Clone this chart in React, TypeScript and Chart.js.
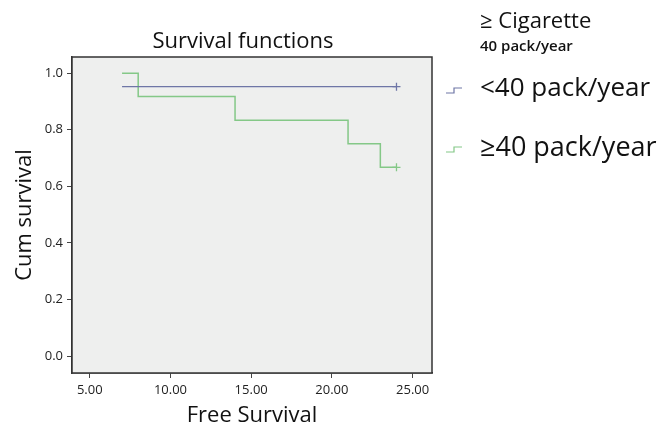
import React, { useEffect, useRef } from "react";
import { Chart, registerables } from "chart.js";

Chart.register(...registerables);

const chartTitle = "Survival functions";
const legendTitle = "≥ Cigarette";
const legendSubtitle = "40 pack/year";
const seriesLabels = ["<40 pack/year", "≥40 pack/year"];
const seriesColors = ["#6e76a6", "#84c887"];

const lowTimes = [7, 24];
const lowSurvival = [0.952, 0.952];
const highTimes = [7, 8, 14, 21, 23, 24];
const highSurvival = [1.0, 0.917, 0.833, 0.75, 0.667, 0.667];

const xTicks = [5, 10, 15, 20, 25];
const yTicks = [0, 0.2, 0.4, 0.6, 0.8, 1.0];
const xTitle = "Free Survival";
const yTitle = "Cum survival";

const FONT = "'Open Sans', 'Noto Sans', sans-serif";

const toPoints = (xs: number[], ys: number[]) => xs.map((x, i) => ({ x, y: ys[i] }));
const censorRadius = (n: number) => Array.from({ length: n }, (_, i) => (i === n - 1 ? 4 : 0));

const framePlugin = {
  id: "frame",
  beforeDatasetsDraw(chart: any) {
    const { ctx, chartArea: a } = chart;
    ctx.save();
    ctx.fillStyle = "#eeefee";
    ctx.fillRect(a.left, a.top, a.right - a.left, a.bottom - a.top);
    ctx.restore();
  },
  afterDraw(chart: any) {
    const { ctx, chartArea: a } = chart;
    ctx.save();
    ctx.strokeStyle = "#333";
    ctx.lineWidth = 1.5;
    ctx.strokeRect(a.left, a.top, a.right - a.left, a.bottom - a.top);

    // title
    ctx.fillStyle = "#111";
    ctx.font = `22px ${FONT}`;
    ctx.textAlign = "center";
    ctx.textBaseline = "middle";
    ctx.fillText(chartTitle, (a.left + a.right) / 2 - 9, 42);

    // legend
    const lx = a.right + 48;
    ctx.textAlign = "left";
    ctx.font = `22px ${FONT}`;
    ctx.fillText(legendTitle, lx, 22);
    ctx.font = `600 15px ${FONT}`;
    ctx.fillText(legendSubtitle, lx, 47);
    const ys = [89, 148];
    chart.data.datasets.forEach((ds: any, i: number) => {
      const y = ys[i];
      ctx.strokeStyle = ds.borderColor;
      ctx.lineWidth = 1.2;
      ctx.beginPath();
      ctx.moveTo(a.right + 14, y + 4);
      ctx.lineTo(a.right + 22, y + 4);
      ctx.lineTo(a.right + 22, y - 1);
      ctx.lineTo(a.right + 30, y - 1);
      ctx.stroke();
      ctx.fillStyle = "#111";
      ctx.font = `${i === 0 ? 26 : 27}px ${FONT}`;
      ctx.fillText(ds.label, lx, y);
    });
    ctx.restore();
  },
};

export default function App() {
  const ref = useRef<HTMLCanvasElement>(null);
  useEffect(() => {
    if (!ref.current) return;
    const chart = new Chart(ref.current, {
      type: "line",
      data: {
        datasets: [
          {
            label: seriesLabels[0],
            data: toPoints(lowTimes, lowSurvival),
            borderColor: seriesColors[0],
            backgroundColor: seriesColors[0],
            borderWidth: 1.3,
            stepped: true,
            pointStyle: "cross",
            pointRadius: censorRadius(lowTimes.length),
            pointBorderWidth: 1.3,
          },
          {
            label: seriesLabels[1],
            data: toPoints(highTimes, highSurvival),
            borderColor: seriesColors[1],
            backgroundColor: seriesColors[1],
            borderWidth: 1.5,
            stepped: true,
            pointStyle: "cross",
            pointRadius: censorRadius(highTimes.length),
            pointBorderWidth: 1.3,
          },
        ],
      },
      options: {
        responsive: false,
        animation: false,
        layout: { padding: { top: 57, right: 233, left: 0, bottom: 0 } },
        plugins: { legend: { display: false }, title: { display: false }, tooltip: { enabled: false } },
        scales: {
          x: {
            type: "linear",
            min: 3.9,
            max: 26.2,
            afterFit: (s: any) => { s.height = 56; },
            afterBuildTicks: (s: any) => { s.ticks = xTicks.map((v) => ({ value: v })); },
            ticks: {
              callback: (v: any) => Number(v).toFixed(2),
              color: "#222",
              font: { family: FONT, size: 13 },
              padding: 4,
              maxRotation: 0,
            },
            grid: { drawOnChartArea: false, drawTicks: true, tickLength: 5, color: "#444" },
            border: { display: true, color: "#333", width: 1.5 },
            title: { display: true, text: xTitle, color: "#111", font: { family: FONT, size: 22 }, padding: { top: 0, bottom: 0 } },
          },
          y: {
            type: "linear",
            min: -0.06,
            max: 1.057,
            afterFit: (s: any) => { s.width = 72; },
            afterBuildTicks: (s: any) => { s.ticks = yTicks.map((v) => ({ value: v })); },
            ticks: {
              callback: (v: any) => Number(v).toFixed(1),
              color: "#222",
              font: { family: FONT, size: 13 },
              padding: 4,
            },
            grid: { drawOnChartArea: false, drawTicks: true, tickLength: 5, color: "#444" },
            border: { display: true, color: "#333", width: 1.5 },
            title: { display: true, text: yTitle, color: "#111", font: { family: FONT, size: 22 }, padding: { top: 12, bottom: 0 } },
          },
        },
      },
      plugins: [framePlugin],
    });
    return () => chart.destroy();
  }, []);
  return (
    <div style={{ position: "fixed", left: 0, top: 0, width: 665, height: 429, background: "#fff" }}>
      <canvas ref={ref} width={665} height={429} />
    </div>
  );
}
